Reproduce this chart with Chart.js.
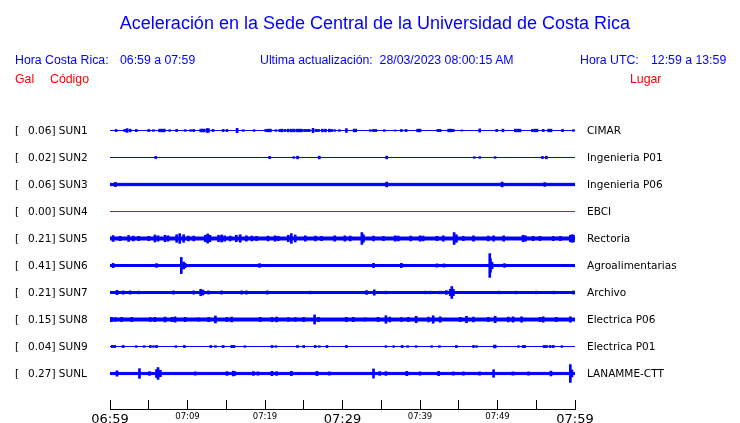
<!DOCTYPE html>
<html lang="es">
<head>
<meta charset="utf-8">
<title>Aceleración en la Sede Central de la Universidad de Costa Rica</title>
<script src="https://cdn.jsdelivr.net/npm/chart.js@4.4.1/dist/chart.umd.min.js"></script>
<style>
    html, body { margin: 0; padding: 0; background: #fff; overflow: hidden; }
    #wrap { position: relative; width: 740px; height: 423px; }
    #chart { position: absolute; left: 0; top: 0; }
    .t { position: absolute; white-space: pre; font-family: "Liberation Sans", Arial, sans-serif; font-size: 12.3px; line-height: 12.3px; }
    .blue { color: #0000ff; }
    .red { color: #ff0000; }
    .lbl { position: absolute; white-space: pre; font-family: "DejaVu Sans", sans-serif; font-size: 10.5px; line-height: 15px; height: 15px; color: #000; }
</style>
</head>
<body>
<div id="wrap">
    <canvas id="chart" width="740" height="423"></canvas>

    <div class="t blue" style="left:5px; top:14px; width:740px; text-align:center; font-size:18px; line-height:18px;">Aceleración en la Sede Central de la Universidad de Costa Rica</div>

    <div class="t blue" style="left:15px; top:54px;">Hora Costa Rica:</div>
    <div class="t blue" style="left:120px; top:54px;">06:59 a 07:59</div>
    <div class="t blue" style="left:260px; top:54px;">Ultima actualización:  28/03/2023 08:00:15 AM</div>
    <div class="t blue" style="left:580px; top:54px;">Hora UTC:</div>
    <div class="t blue" style="left:651px; top:54px;">12:59 a 13:59</div>

    <div class="t red" style="left:15px; top:73px;">Gal</div>
    <div class="t red" style="left:50px; top:73px;">Código</div>
    <div class="t red" style="left:630px; top:73px;">Lugar</div>

    <div id="labels"></div>
</div>

<script>
// ============================
// Data
// ============================
const stations = ["SUN1", "SUN2", "SUN3", "SUN4", "SUN5", "SUN6", "SUN7", "SUN8", "SUN9", "SUNL"];
const places = ["CIMAR", "Ingenieria P01", "Ingenieria P06", "EBCI", "Rectoria",
                "Agroalimentarias", "Archivo", "Electrica P06", "Electrica P01", "LANAMME-CTT"];
const peakGal = ["0.06", "0.02", "0.06", "0.00", "0.21", "0.41", "0.21", "0.15", "0.04", "0.27"];

// background noise half-width of each trace (trace spacing = 1)
const noise = [0, 0, 0.043, 0, 0.055, 0.037, 0.037, 0.055, 0, 0.04];

// spikes: [minutes after 06:59, half amplitude]
const sun1 = [[0.8,.04],[1.9,.04],[2.2,.07],[2.6,.05],[3.4,.04],[5.0,.04],[5.6,.03],[6.4,.05],[6.7,.05],[7.0,.05],
    [7.7,.03],[8.6,.04],[9.7,.03],[10.4,.03],[10.8,.04],[11.7,.05],[11.9,.05],[12.1,.05],[12.5,.07],[12.7,.07],
    [13.3,.04],[14.6,.04],[15.1,.04],[16.4,.08],[17.2,.03],[18.6,.03],[20.1,.04],[20.4,.05],[20.7,.05],[21.4,.03],
    [21.9,.04],[22.2,.05],[22.6,.04],[23.0,.05],[23.4,.05],[23.7,.05],[24.1,.05],[24.4,.05],[24.7,.05],[25.1,.04],
    [25.4,.04],[25.7,.04],[26.2,.08],[26.6,.04],[26.9,.04],[27.4,.05],[27.8,.05],[28.3,.05],[28.6,.04],[29.0,.03],
    [29.6,.03],[30.5,.07],[31.5,.05],[31.7,.05],[33.6,.03],[34.0,.04],[34.3,.04],[35.4,.03],[36.8,.02],[37.6,.04],
    [38.2,.04],[39.7,.05],[40.0,.05],[42.3,.04],[42.6,.04],[43.7,.05],[44.0,.05],[44.3,.04],[45.4,.02],[47.7,.06],
    [49.9,.04],[50.7,.05],[52.3,.05],[52.6,.05],[52.9,.05],[54.5,.04],[54.8,.05],[55.1,.05],[55.9,.04],[56.6,.05],
    [56.9,.05],[58.4,.04],[59.8,.03]];
const sun2 = [[5.9,.04],[20.6,.04],[23.7,.03],[24.2,.05],[27.0,.05],[35.7,.05],[47.0,.03],[47.7,.03],[49.7,.03],
    [55.8,.04],[56.3,.05]];
const sun3 = [[0.7,.08],[35.7,.09],[50.6,.09],[56.1,.07]];
const sun4 = [];
const sun5 = [[0.4,.11],[1.3,.08],[2.4,.11],[3.0,.09],[3.7,.08],[5.0,.08],[5.8,.13],[6.2,.1],[7.1,.12],[7.5,.1],
    [8.6,.14],[9.0,.18],[9.5,.14],[10.1,.09],[10.8,.09],[12.3,.12],[12.6,.17],[12.9,.12],[14.0,.12],[14.4,.13],
    [14.8,.1],[15.5,.09],[16.3,.12],[16.8,.14],[17.6,.1],[18.3,.09],[18.9,.08],[20.4,.09],[21.3,.1],[21.7,.08],
    [23.0,.12],[23.4,.18],[23.9,.13],[25.2,.1],[26.5,.09],[27.3,.08],[29.0,.1],[30.3,.1],[31.0,.09],[32.5,.22],
    [32.7,.14],[34.0,.09],[35.3,.08],[36.8,.1],[37.2,.09],[38.8,.09],[40.0,.1],[40.4,.09],[42.2,.08],[43.0,.1],
    [44.4,.22],[44.7,.14],[45.6,.08],[46.9,.1],[48.8,.09],[49.5,.1],[50.8,.1],[53.3,.12],[53.6,.1],[54.6,.08],
    [55.5,.08],[57.2,.08],[58.1,.08],[59.4,.12],[59.6,.14],[59.8,.13]];
const sun6 = [[0.4,.08],[6.0,.07],[9.2,.3],[9.5,.13],[9.7,.08],[11.4,.04],[14.0,.04],[15.7,.04],[19.3,.07],[22.6,.04],
    [25.2,.04],[28.6,.04],[34.0,.08],[37.6,.08],[40.4,.04],[42.2,.06],[43.1,.06],[44.7,.04],[49.0,.44],[49.1,.25],
    [49.3,.12],[50.9,.07],[54.6,.04],[57.2,.04]];
const sun7 = [[0.9,.08],[1.7,.06],[2.6,.06],[3.7,.05],[7.0,.04],[8.2,.06],[10.8,.06],[11.7,.12],[12.0,.09],[12.7,.06],
    [14.4,.06],[17.0,.06],[17.6,.06],[20.3,.06],[25.8,.05],[26.9,.04],[33.1,.07],[34.1,.1],[35.6,.05],[40.7,.05],
    [41.3,.05],[42.6,.05],[43.4,.07],[43.9,.12],[44.1,.22],[44.3,.12],[50.2,.05],[52.4,.05],[55.0,.05],[57.3,.05],
    [59.8,.06]];
const sun8 = [[0.2,.08],[0.7,.07],[1.5,.08],[2.8,.08],[5.2,.07],[5.8,.08],[7.1,.09],[8.0,.08],[8.4,.1],[9.7,.08],
    [11.4,.06],[12.7,.08],[13.6,.13],[15.1,.08],[15.7,.09],[19.4,.08],[20.9,.08],[21.5,.09],[23.0,.07],[23.9,.07],
    [25.0,.08],[26.4,.17],[26.9,.08],[30.5,.08],[31.4,.08],[32.9,.06],[34.6,.08],[35.6,.14],[36.1,.09],[37.6,.07],
    [38.5,.08],[39.5,.12],[41.1,.09],[41.7,.14],[42.6,.1],[45.2,.08],[46.0,.12],[46.9,.09],[48.8,.08],[49.7,.12],
    [51.4,.09],[52.0,.1],[53.1,.1],[55.5,.08],[55.9,.1],[57.6,.08],[59.4,.1]];
const sun9 = [[0.3,.04],[0.6,.04],[1.7,.04],[3.4,.03],[4.4,.03],[5.2,.04],[5.6,.03],[6.0,.04],[8.5,.03],[9.6,.04],
    [13.0,.04],[13.6,.03],[14.6,.04],[15.7,.04],[16.0,.04],[17.4,.03],[20.9,.04],[21.4,.03],[24.2,.04],[25.0,.04],
    [26.5,.04],[27.0,.03],[28.0,.04],[30.5,.04],[35.6,.03],[36.6,.03],[37.7,.04],[38.4,.03],[39.5,.03],[41.5,.03],
    [42.5,.03],[44.7,.04],[46.9,.04],[47.3,.03],[49.6,.05],[49.7,.05],[52.7,.03],[53.3,.04],[53.5,.04],[56.0,.04],
    [56.3,.04],[56.8,.04],[57.2,.04],[58.3,.03]];
const sunl = [[0.9,.1],[3.8,.18],[5.1,.07],[6.0,.15],[6.2,.22],[6.5,.12],[11.0,.06],[15.1,.07],[15.9,.09],[16.1,.07],
    [18.5,.07],[19.1,.06],[20.9,.08],[21.5,.07],[23.4,.08],[26.7,.08],[28.3,.06],[34.0,.17],[34.8,.07],[35.6,.07],
    [38.3,.08],[40.0,.06],[42.4,.08],[44.3,.06],[45.6,.06],[47.7,.06],[49.5,.14],[52.0,.06],[54.0,.06],[56.9,.09],
    [59.4,.33],[59.6,.13]];
const spikes = [sun1, sun2, sun3, sun4, sun5, sun6, sun7, sun8, sun9, sunl];

// time axis (minutes after 06:59)
const tickLabels = ["06:59", "", "07:09", "", "07:19", "", "07:29", "", "07:39", "", "07:49", "", "07:59"];
const bigTicks = [0, 30, 60];

// ============================
// Station labels
// ============================
const labelBox = document.getElementById("labels");
stations.forEach(function (code, i) {
    const top = 123 + 27 * i;
    labelBox.insertAdjacentHTML("beforeend",
        '<div class="lbl" style="left:15px; top:' + top + 'px;">[</div>' +
        '<div class="lbl" style="left:28px; top:' + top + 'px;">' + peakGal[i] + '] ' + code + '</div>' +
        '<div class="lbl" style="left:587px; top:' + top + 'px;">' + places[i] + '</div>');
});

// ============================
// Chart
// ============================
const datasets = [];

// noise band of every trace
stations.forEach(function (code, i) {
    const color = code === "SUN4" ? "#ff0000" : "#0000ff";
    datasets.push({
        type: "line",
        label: code + " top",
        data: [{ x: 0, y: i - noise[i] }, { x: 60, y: i - noise[i] }],
        borderColor: color,
        borderWidth: 1,
        pointRadius: 0,
        fill: false
    });
    datasets.push({
        type: "line",
        label: code + " bottom",
        data: [{ x: 0, y: i + noise[i] }, { x: 60, y: i + noise[i] }],
        borderColor: color,
        backgroundColor: color,
        borderWidth: 1,
        pointRadius: 0,
        fill: "-1"
    });
});

// spikes of all traces in one floating bar set
datasets.push({
    type: "bar",
    label: "spikes",
    data: spikes.flatMap(function (list, i) {
        return list.map(function (s) {
            return { x: s[0], y: [i - s[1], i + s[1]] };
        });
    }),
    backgroundColor: "#0000ff",
    borderWidth: 0,
    barThickness: 2
});

new Chart(document.getElementById("chart"), {
    type: "bar",
    data: { datasets: datasets },
    options: {
        responsive: false,
        devicePixelRatio: 1,
        animation: false,
        layout: { padding: { left: 110, right: 165, top: 117, bottom: 0 } },
        plugins: {
            legend: { display: false },
            tooltip: { enabled: false }
        },
        scales: {
            x: {
                type: "linear",
                min: 0,
                max: 60,
                offset: false,
                afterFit: function (scale) { scale.height = 14; },
                grid: {
                    offset: false,
                    drawOnChartArea: false,
                    drawTicks: true,
                    tickLength: -9,
                    color: "#000"
                },
                border: { display: true, color: "#000", width: 1 },
                ticks: {
                    stepSize: 5,
                    autoSkip: false,
                    maxRotation: 0,
                    minRotation: 0,
                    padding: 13,
                    color: "#000",
                    callback: function (value) {
                        return tickLabels[Math.round(value / 5)];
                    },
                    font: function (ctx) {
                        const big = ctx.tick && bigTicks.includes(ctx.tick.value);
                        return { family: "DejaVu Sans", size: big ? 13 : 8.5, lineHeight: 1 };
                    }
                }
            },
            y: {
                type: "linear",
                display: false,
                reverse: true,
                min: -0.5,
                max: -0.5 + 292 / 27
            }
        }
    }
});
</script>
</body>
</html>
